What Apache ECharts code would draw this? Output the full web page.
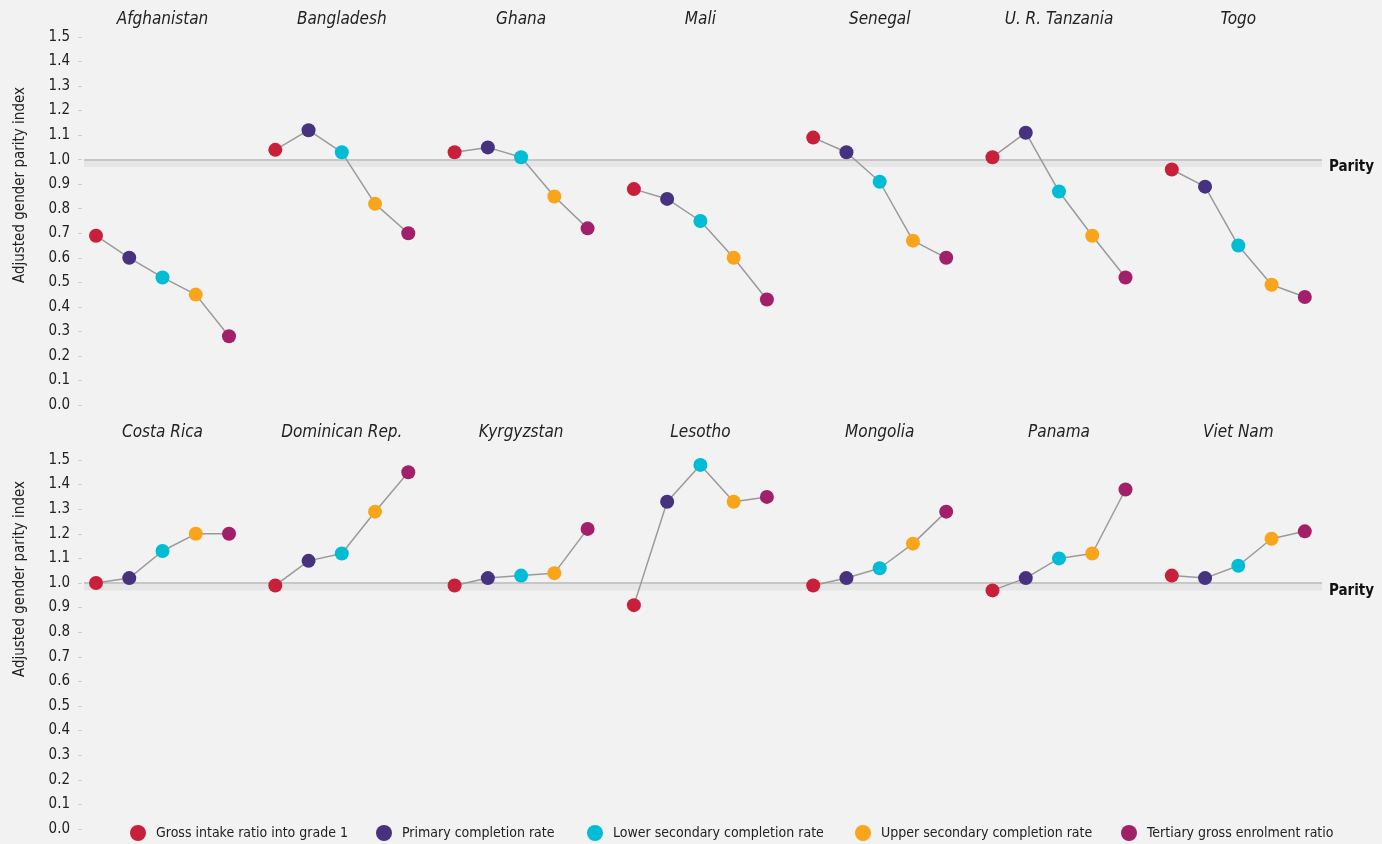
<!DOCTYPE html>
<html><head><meta charset="utf-8">
<script src="https://cdn.jsdelivr.net/npm/echarts@6/dist/echarts.min.js"></script>
<style>html,body{margin:0;padding:0;background:#f2f2f2;} #c{width:1382px;height:844px;}</style>
</head><body><div id="c"></div>
<script>
// ---- data ----
const indicators = ['Gross intake ratio into grade 1', 'Primary completion rate', 'Lower secondary completion rate', 'Upper secondary completion rate', 'Tertiary gross enrolment ratio'];
const indicatorColors = ['#c8203a', '#46327e', '#00bcd4', '#f8a51c', '#a21f69'];

const topCountries = ['Afghanistan', 'Bangladesh', 'Ghana', 'Mali', 'Senegal', 'U. R. Tanzania', 'Togo'];
const bottomCountries = ['Costa Rica', 'Dominican Rep.', 'Kyrgyzstan', 'Lesotho', 'Mongolia', 'Panama', 'Viet Nam'];

const afghanistan = [0.69, 0.60, 0.52, 0.45, 0.28];
const bangladesh  = [1.04, 1.12, 1.03, 0.82, 0.70];
const ghana       = [1.03, 1.05, 1.01, 0.85, 0.72];
const mali        = [0.88, 0.84, 0.75, 0.60, 0.43];
const senegal     = [1.09, 1.03, 0.91, 0.67, 0.60];
const tanzania    = [1.01, 1.11, 0.87, 0.69, 0.52];
const togo        = [0.96, 0.89, 0.65, 0.49, 0.44];

const costaRica   = [1.00, 1.02, 1.13, 1.20, 1.20];
const dominican   = [0.99, 1.09, 1.12, 1.29, 1.45];
const kyrgyzstan  = [0.99, 1.02, 1.03, 1.04, 1.22];
const lesotho     = [0.91, 1.33, 1.48, 1.33, 1.35];
const mongolia    = [0.99, 1.02, 1.06, 1.16, 1.29];
const panama      = [0.97, 1.02, 1.10, 1.12, 1.38];
const vietNam     = [1.03, 1.02, 1.07, 1.18, 1.21];

const topValues = [afghanistan, bangladesh, ghana, mali, senegal, tanzania, togo];
const bottomValues = [costaRica, dominican, kyrgyzstan, lesotho, mongolia, panama, vietNam];

const yMin = 0, yMax = 1.5, yStep = 0.1;
const parity = 1.0, parityBandLow = 0.97;
const parityLabel = 'Parity';
const yAxisTitle = 'Adjusted gender parity index';

// ---- layout ----
const FONT = "'Liberation Sans Narrow','DejaVu Sans Condensed','Noto Sans',sans-serif";
const rows = [
  { countries: topCountries, values: topValues, top: 37, height: 368, titleTop: 11 },
  { countries: bottomCountries, values: bottomValues, top: 460, height: 369, titleTop: 424 }
];
const colLeft0 = 96, colStep = 179.3, colWidth = 133;

const grid = [], xAxis = [], yAxis = [], series = [], title = [];

rows.forEach((row, r) => {
  row.countries.forEach((name, k) => {
    const gi = grid.length;
    const left = colLeft0 + k * colStep;
    grid.push({ left: left, top: row.top, width: colWidth, height: row.height });
    xAxis.push({ type: 'category', gridIndex: gi, data: indicators, boundaryGap: false, show: false });
    yAxis.push({
      type: 'value', gridIndex: gi, min: yMin, max: yMax, interval: yStep,
      show: k === 0, offset: 14,
      axisLine: { show: false },
      axisTick: { show: true, length: 4, lineStyle: { color: '#cfcfcf' } },
      axisLabel: { margin: 12, color: '#222', fontSize: 15, fontFamily: FONT, formatter: v => v.toFixed(1) },
      splitLine: { show: false }
    });
    series.push({
      type: 'line', xAxisIndex: gi, yAxisIndex: gi, z: 5,
      symbol: 'circle', symbolSize: 14,
      lineStyle: { color: '#9a9a9a', width: 1.5 },
      data: row.values[k].map((v, i) => ({ value: v, itemStyle: { color: indicatorColors[i], opacity: 1 } })),
      emphasis: { disabled: true }, silent: true
    });
    title.push({
      text: name, left: left + colWidth / 2, top: row.titleTop, textAlign: 'center', padding: 0,
      textStyle: { fontFamily: FONT, fontStyle: 'italic', fontWeight: 'normal', fontSize: 17, color: '#222' }
    });
  });
});

// background grids for parity band
rows.forEach((row, r) => {
  const gi = grid.length;
  grid.push({ left: 84, top: row.top, width: 1238, height: row.height });
  xAxis.push({ type: 'value', gridIndex: gi, min: 0, max: 1, show: false });
  yAxis.push({ type: 'value', gridIndex: gi, min: yMin, max: yMax, show: false });
  series.push({
    type: 'line', xAxisIndex: gi, yAxisIndex: gi, data: [], z: 1, silent: true,
    markArea: {
      silent: true,
      itemStyle: { color: '#e6e6e6' },
      label: { show: true, position: 'right', distance: 7, offset: [0, 4], formatter: parityLabel, color: '#111', fontFamily: FONT, fontWeight: 'bold', fontSize: 15 },
      data: [[{ yAxis: parityBandLow }, { yAxis: parity }]]
    },
    markLine: {
      silent: true, symbol: 'none',
      lineStyle: { color: '#c6c6c6', width: 2, type: 'solid' },
      label: { show: false },
      data: [{ yAxis: parity }]
    }
  });
});

// legend dummy series
const bgTop = grid.length - 2;
indicators.forEach((name, i) => {
  series.push({ type: 'scatter', name: name, xAxisIndex: bgTop, yAxisIndex: bgTop, data: [], itemStyle: { color: indicatorColors[i], opacity: 1 } });
});
const legendLefts = [130, 376, 587, 855, 1121];
const legend = indicators.map((name, i) => ({
  data: [name], left: legendLefts[i], top: 825, icon: 'circle', padding: 0,
  itemWidth: 26, itemHeight: 16, selectedMode: false,
  itemStyle: { opacity: 1 },
  textStyle: { fontFamily: FONT, fontSize: 14, color: '#222' }
}));

const option = {
  backgroundColor: '#f2f2f2',
  animation: false,
  title, grid, xAxis, yAxis, series, legend,
  graphic: [
    { type: 'text', left: 13, top: 87, rotation: Math.PI / 2,
      style: { text: yAxisTitle, fontFamily: FONT, fontSize: 15, fill: '#222' } },
    { type: 'text', left: 13, top: 481, rotation: Math.PI / 2,
      style: { text: yAxisTitle, fontFamily: FONT, fontSize: 15, fill: '#222' } }
  ]
};
const chart = echarts.init(document.getElementById('c'));
chart.setOption(option);
</script></body></html>
